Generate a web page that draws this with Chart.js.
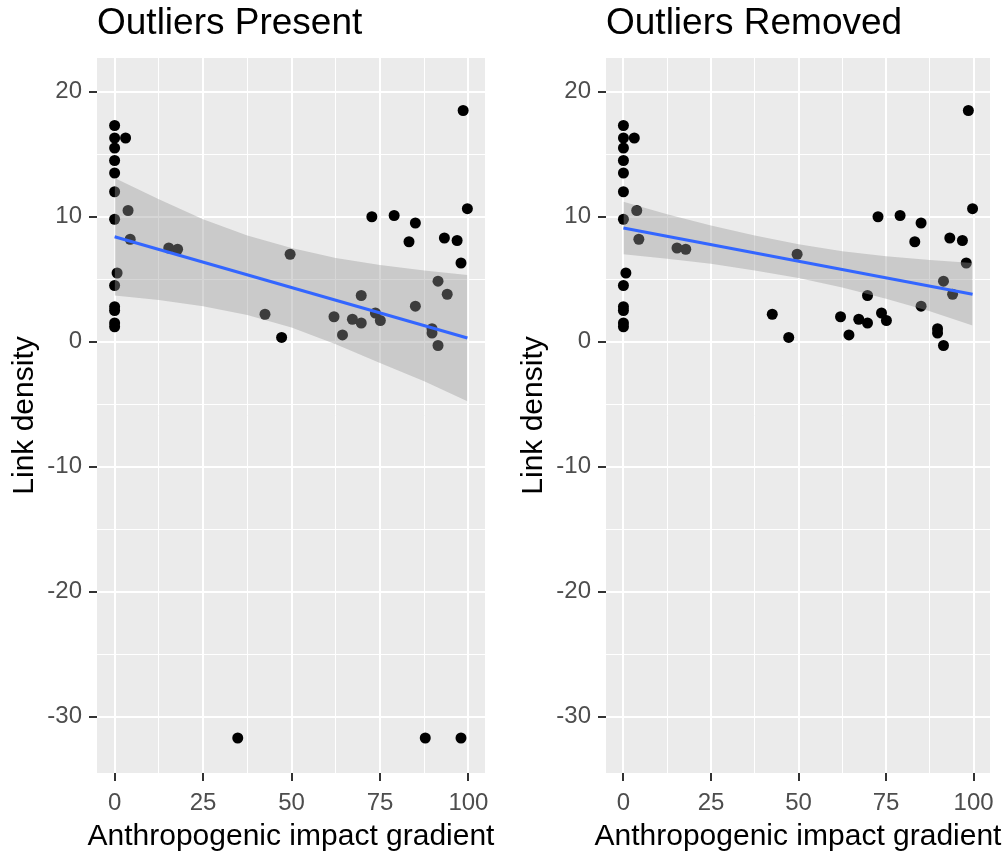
<!DOCTYPE html>
<html>
<head>
<meta charset="utf-8">
<script src="https://cdn.jsdelivr.net/npm/chart.js@4/dist/chart.umd.min.js"></script>
<style>
  body { margin: 0; background: #fff; }
  .wrap { position: relative; width: 1003px; height: 854px; }
  canvas { position: absolute; top: 0; }
  #left { left: 0; }
  #right { left: 502px; }
</style>
</head>
<body>
<div class="wrap">
  <canvas id="left" width="502" height="854"></canvas>
  <canvas id="right" width="501" height="854"></canvas>
</div>
<script>
// site data: impact gradient vs link density
const gradient = [0, 0, 0, 0, 0, 0, 0, 0, 0, 0, 0, 0, 0.7, 3.1, 3.8, 4.4, 15.3, 17.8,
  42.5, 47.2, 49.6, 62.0, 64.4, 67.2, 69.7, 69.7, 72.7, 73.7, 75.1, 79.0, 83.2, 85.0,
  85.0, 89.7, 89.7, 91.4, 91.4, 93.2, 94.0, 96.8, 97.9, 98.5, 99.7];
const linkDensity = [17.3, 16.3, 15.5, 14.5, 13.5, 12.0, 9.8, 4.5, 2.8, 2.5, 1.5, 1.2, 5.5, 16.3, 10.5, 8.2, 7.5, 7.4,
  2.2, 0.35, 7.0, 2.0, 0.55, 1.8, 1.5, 3.7, 10.0, 2.3, 1.7, 10.1, 8.0, 9.5,
  2.85, 1.05, 0.7, 4.85, -0.3, 8.3, 3.8, 8.1, 6.3, 18.5, 10.65];

const outlierGradient = [34.8, 87.8, 97.9];
const outlierDensity = [-31.7, -31.7, -31.7];

// lm fit + 95% band, sampled along the gradient
const fitX = [0, 12.5, 25, 37.5, 50, 62.5, 75, 87.5, 99.7];
const lineEnds = [0, 99.7];

const fitAll = [8.4, 0.3];
const upperAll = [13.1, 11.4, 9.8, 8.5, 7.5, 6.7, 6.15, 5.7, 5.35];
const lowerAll = [3.7, 3.35, 2.85, 2.15, 1.15, -0.2, -1.7, -3.15, -4.75];

const fitClean = [9.1, 3.8];
const upperClean = [11.2, 10.2, 9.3, 8.5, 7.8, 7.25, 6.85, 6.55, 6.3];
const lowerClean = [7.0, 6.65, 6.25, 5.7, 5.1, 4.35, 3.45, 2.45, 1.3];

const xTicks = [0, 12.5, 25, 37.5, 50, 62.5, 75, 87.5, 100];
const yTicks = [-30, -25, -20, -15, -10, -5, 0, 5, 10, 15, 20];
const xLabelled = [0, 25, 50, 75, 100];
const yLabelled = [-30, -20, -10, 0, 10, 20];

const FONT = "'Liberation Sans', Arial, sans-serif";
const X_TITLE = 'Anthropogenic impact gradient';

const zip = (xs, ys) => xs.map((x, i) => ({ x, y: ys[i] }));

const panelBackground = {
  id: 'panelBackground',
  beforeDraw(chart) {
    const { ctx, chartArea: a } = chart;
    ctx.save();
    ctx.fillStyle = '#ffffff';
    ctx.fillRect(0, 0, chart.width, chart.height);
    ctx.fillStyle = '#EBEBEB';
    ctx.fillRect(a.left, a.top, a.right - a.left, a.bottom - a.top);
    ctx.restore();
  },
};

// the built-in axis title gets squeezed to the panel width, so draw it by hand
const xAxisTitle = {
  id: 'xAxisTitle',
  afterDraw(chart) {
    const { ctx, chartArea: a } = chart;
    ctx.save();
    ctx.font = `30px ${FONT}`;
    ctx.fillStyle = '#000000';
    ctx.textAlign = 'center';
    ctx.textBaseline = 'alphabetic';
    ctx.fillText(X_TITLE, (a.left + a.right) / 2, chart.height - 9);
    ctx.restore();
  },
};

function gridFor(labelled) {
  const major = (c) => c.tick && labelled.includes(c.tick.value);
  return {
    color: '#FFFFFF',
    lineWidth: (c) => (major(c) ? 2 : 1),
    tickColor: (c) => (major(c) ? '#333333' : 'rgba(0,0,0,0)'),
    tickWidth: 2,
    tickLength: 8,
  };
}

function makePanel(id, title, points, fit, upper, lower, axisWidth, padRight, yTitlePad) {
  return new Chart(document.getElementById(id), {
    type: 'scatter',
    data: {
      datasets: [
        {
          type: 'line',
          data: zip(lineEnds, fit),
          borderColor: '#3366FF',
          borderWidth: 3,
          pointRadius: 0,
          fill: false,
        },
        {
          type: 'line',
          data: zip(fitX, upper),
          borderWidth: 0,
          pointRadius: 0,
          backgroundColor: 'rgba(153,153,153,0.4)',
          fill: '+1',
        },
        {
          type: 'line',
          data: zip(fitX, lower),
          borderWidth: 0,
          pointRadius: 0,
          fill: false,
        },
        {
          data: points,
          backgroundColor: '#000000',
          borderWidth: 0,
          pointRadius: 5.5,
        },
      ],
    },
    options: {
      responsive: false,
      animation: false,
      layout: { padding: { left: 0, right: padRight, top: 0, bottom: 0 } },
      plugins: {
        legend: { display: false },
        tooltip: { enabled: false },
        title: {
          display: true,
          text: title,
          align: 'start',
          fullSize: false,
          color: '#000000',
          font: { family: FONT, size: 37, weight: 'normal', lineHeight: 1.2 },
          padding: { top: 2, bottom: 11.6 },
        },
      },
      scales: {
        x: {
          type: 'linear',
          min: -4.98,
          max: 104.68,
          afterBuildTicks: (s) => { s.ticks = xTicks.map((v) => ({ value: v })); },
          afterFit: (s) => { s.height = 81; },
          border: { display: false },
          grid: gridFor(xLabelled),
          ticks: {
            autoSkip: false,
            maxRotation: 0,
            padding: 8,
            color: '#4D4D4D',
            font: { family: FONT, size: 24 },
            callback: (v) => (xLabelled.includes(v) ? String(v) : ''),
          },
        },
        y: {
          type: 'linear',
          min: -34.5,
          max: 22.7,
          afterBuildTicks: (s) => { s.ticks = yTicks.map((v) => ({ value: v })); },
          afterFit: (s) => { s.width = axisWidth; },
          border: { display: false },
          grid: gridFor(yLabelled),
          ticks: {
            autoSkip: false,
            padding: 7,
            color: '#4D4D4D',
            font: { family: FONT, size: 24 },
            callback: (v) => (yLabelled.includes(v) ? String(v) : ''),
          },
          title: {
            display: true,
            text: 'Link density',
            color: '#000000',
            font: { family: FONT, size: 30 },
            padding: { top: yTitlePad, bottom: 0 },
          },
        },
      },
    },
    plugins: [panelBackground, xAxisTitle],
  });
}

const allPoints = zip(gradient.concat(outlierGradient), linkDensity.concat(outlierDensity));
const cleanPoints = zip(gradient, linkDensity);

makePanel('left', 'Outliers Present', allPoints, fitAll, upperAll, lowerAll, 97, 17, 7);
makePanel('right', 'Outliers Removed', cleanPoints, fitClean, upperClean, lowerClean, 104, 13, 14);
</script>
</body>
</html>
